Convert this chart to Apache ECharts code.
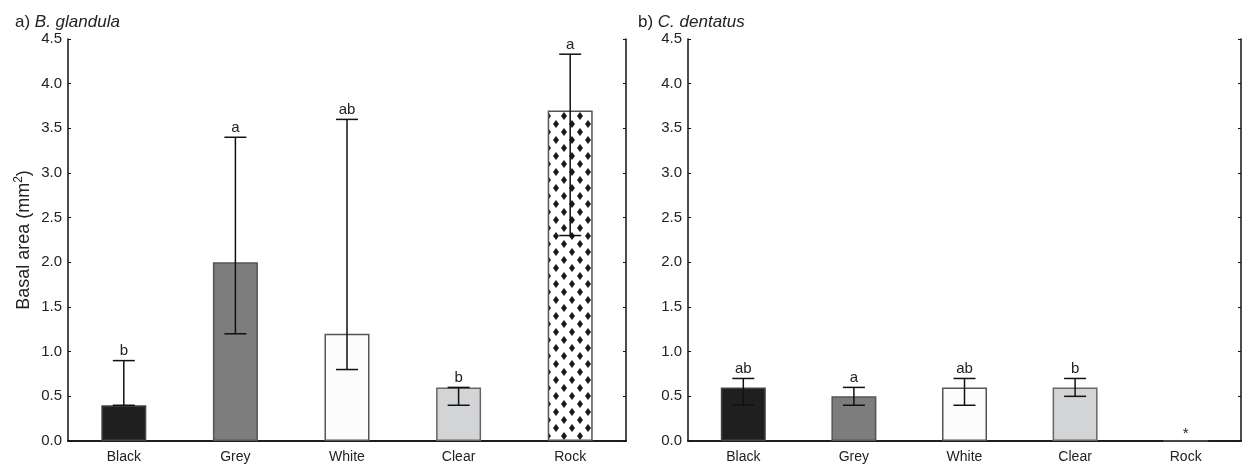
<!DOCTYPE html>
<html><head><meta charset="utf-8">
<script src="https://cdn.jsdelivr.net/npm/echarts@6/dist/echarts.min.js"></script>
<style>html,body{margin:0;padding:0;background:#fff}#c{width:1243px;height:475px}</style>
</head><body><div id="c"></div>
<script>
const categories = ['Black', 'Grey', 'White', 'Clear', 'Rock'];
const yTicks = ['0.0','0.5','1.0','1.5','2.0','2.5','3.0','3.5','4.0','4.5'];
// Panel a) B. glandula
const aMeans = [0.4, 2.0, 1.2, 0.6, 3.7];
const aLow = [0.4, 1.2, 0.8, 0.4, 2.3];
const aHigh = [0.9, 3.4, 3.6, 0.6, 4.33];
const aLetters = ['b', 'a', 'ab', 'b', 'a'];
// Panel b) C. dentatus
const bMeans = [0.6, 0.5, 0.6, 0.6, 0.0];
const bLow = [0.4, 0.4, 0.4, 0.5, 0.0];
const bHigh = [0.7, 0.6, 0.7, 0.7, 0.0];
const bLetters = ['ab', 'a', 'ab', 'b', '*'];

const FONT = "'Liberation Sans', Arial, sans-serif";
const TXT = '#222';

function makePattern() {
  const c = document.createElement('canvas');
  c.width = 16; c.height = 16;
  const g = c.getContext('2d');
  g.fillStyle = '#fff'; g.fillRect(0, 0, 16, 16);
  g.fillStyle = '#1a1a1a';
  const dia = (x, y) => { g.beginPath(); g.moveTo(x, y - 4); g.lineTo(x + 3, y); g.lineTo(x, y + 4); g.lineTo(x - 3, y); g.closePath(); g.fill(); };
  dia(4, 4); dia(12, 12); dia(-4, 12); dia(20, 12); dia(12, -4); dia(12, 20); dia(4, 20); dia(-4, -4); dia(20, -4);
  return c;
}
const rockPattern = { image: makePattern(), repeat: 'repeat' };
const fills = ['#1f1f1f', '#7d7d7d', '#fcfcfc', '#d3d4d6', rockPattern];
const borders = ['#444', '#555', '#555', '#666', '#555'];

function barData(vals) {
  return vals.map((v, i) => ({ value: v, itemStyle: { color: fills[i], borderColor: borders[i], borderWidth: 1.5 } }));
}
function errData(low, high, letters) {
  return low.map((l, i) => [i, l, high[i], letters[i]]);
}
function renderErr(params, api) {
  const i = api.value(0);
  const lo = api.coord([i, api.value(1)]);
  const hi = api.coord([i, api.value(2)]);
  const label = params.dataIndex;
  const hw = 11;
  const st = { stroke: '#111', lineWidth: 1.5 };
  const children = [];
  if (hi[1] !== lo[1]) {
    children.push({ type: 'line', shape: { x1: lo[0], y1: lo[1], x2: hi[0], y2: hi[1] }, style: st });
    children.push({ type: 'line', shape: { x1: lo[0] - hw, y1: lo[1], x2: lo[0] + hw, y2: lo[1] }, style: st });
    children.push({ type: 'line', shape: { x1: hi[0] - hw, y1: hi[1], x2: hi[0] + hw, y2: hi[1] }, style: st });
  }
  const txt = params.seriesName === 'ea' ? aLetters[label] : bLetters[label];
  const isStar = txt === '*';
  children.push({ type: 'text', x: hi[0], y: hi[1] - (isStar ? 0 : 2), style: { text: txt, x: 0, y: 0, align: 'center', verticalAlign: 'bottom', fill: TXT, font: '15px ' + FONT } });
  return { type: 'group', children };
}

function axesFor(gi) {
  const xs = [
    { type: 'category', data: categories, gridIndex: gi, position: 'bottom',
      axisLine: { lineStyle: { color: '#111', width: 1.5 } },
      axisTick: { inside: true, alignWithLabel: true, length: 3, lineStyle: { color: '#111' } },
      axisLabel: { color: TXT, fontSize: 14, fontFamily: FONT, margin: 9 } },
    { type: 'category', data: categories, gridIndex: gi, position: 'top',
      axisLine: { lineStyle: { color: '#111', width: 1.5 } },
      axisTick: { inside: true, alignWithLabel: true, length: 3, lineStyle: { color: '#111' } },
      axisLabel: { show: false } }
  ];
  const ys = [
    { type: 'value', gridIndex: gi, min: 0, max: 4.5, interval: 0.5, position: 'left',
      axisLine: { show: true, lineStyle: { color: '#111', width: 1.5 } },
      axisTick: { show: true, inside: true, length: 3, lineStyle: { color: '#111' } },
      splitLine: { show: false },
      axisLabel: { color: TXT, fontSize: 15, fontFamily: FONT, margin: 6, formatter: (v) => yTicks[Math.round(v * 2)] } },
    { type: 'value', gridIndex: gi, min: 0, max: 4.5, interval: 0.5, position: 'right',
      axisLine: { show: true, lineStyle: { color: '#111', width: 1.5 } },
      axisTick: { show: true, inside: true, length: 3, lineStyle: { color: '#111' } },
      splitLine: { show: false }, axisLabel: { show: false } }
  ];
  return { xs, ys };
}
const A = axesFor(0), B = axesFor(1);
A.ys[0].name = '{a|Basal area (mm}{s|2}{a|)}';
A.ys[0].nameLocation = 'middle';
A.ys[0].nameGap = 33;
A.ys[0].nameTextStyle = { rich: { a: { fontSize: 18, color: TXT, fontFamily: FONT }, s: { fontSize: 12, color: TXT, fontFamily: FONT, padding: [0, 0, 10, 0] } } };

const chart = echarts.init(document.getElementById('c'), null, { renderer: 'canvas' });
const titleRich = { n: { fontSize: 17, color: TXT, fontFamily: FONT, fontWeight: 'normal' }, i: { fontSize: 17, color: TXT, fontFamily: FONT, fontStyle: 'italic', fontWeight: 'normal' } };
chart.setOption({
  animation: false,
  backgroundColor: '#fff',
  title: [
    { text: '{n|a) }{i|B. glandula}', left: 10, top: 9, textStyle: { fontWeight: 'normal', rich: titleRich } },
    { text: '{n|b) }{i|C. dentatus}', left: 633, top: 9, textStyle: { fontWeight: 'normal', rich: titleRich } }
  ],
  grid: [
    { left: 68, right: 617, top: 39, bottom: 34 },
    { left: 688, right: 2, top: 39, bottom: 34 }
  ],
  xAxis: [...A.xs, ...B.xs.map(a => Object.assign(a, { gridIndex: 1 }))],
  yAxis: [...A.ys, ...B.ys.map(a => Object.assign(a, { gridIndex: 1 }))],
  series: [
    { type: 'bar', name: 'ba', xAxisIndex: 0, yAxisIndex: 0, data: barData(aMeans), barWidth: 45 },
    { type: 'custom', name: 'ea', xAxisIndex: 0, yAxisIndex: 0, data: errData(aLow, aHigh, aLetters), renderItem: renderErr, z: 5 },
    { type: 'bar', name: 'bb', xAxisIndex: 2, yAxisIndex: 2, data: barData(bMeans), barWidth: 45 },
    { type: 'custom', name: 'eb', xAxisIndex: 2, yAxisIndex: 2, data: errData(bLow, bHigh, bLetters), renderItem: renderErr, z: 5 }
  ]
});
</script>
</body></html>
